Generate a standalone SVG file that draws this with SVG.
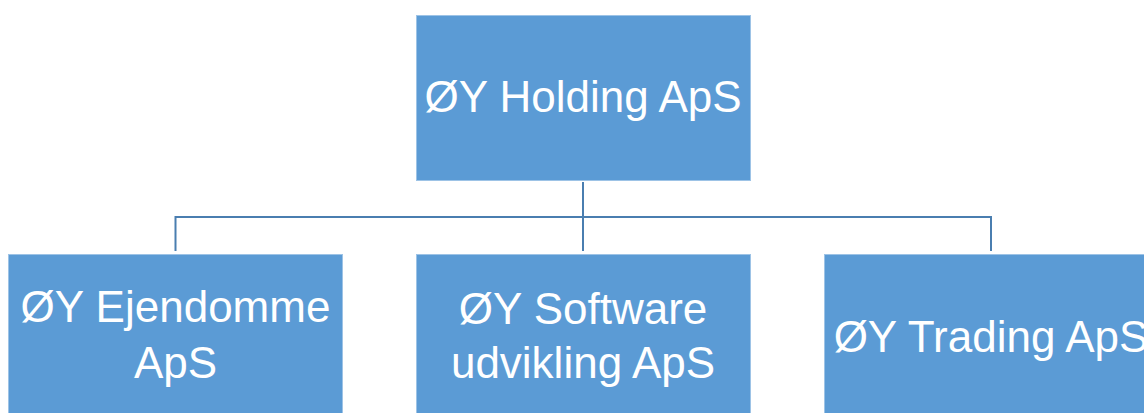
<svg xmlns="http://www.w3.org/2000/svg" width="1144" height="413" viewBox="0 0 1144 413">
<style>
.box{fill:#5B9BD5;stroke:#9DC3E6;stroke-width:1}
.lbl{fill:#FFFFFF;font-family:"Liberation Sans",Arial,sans-serif;font-size:44px;text-anchor:middle}
.conn{fill:none;stroke:#4A7EB0;stroke-width:2}
</style>
<rect width="1144" height="413" fill="#FFFFFF"/>
<g id="connectors">
<path class="conn" d="M583,182 V251"/>
<path class="conn" d="M175.5,251 V217 H991 V251"/>
</g>
<g id="holding">
<rect class="box" x="416.5" y="15.5" width="334" height="165"/>
<text class="lbl" x="583" y="112">ØY Holding ApS</text>
</g>
<g id="ejendomme">
<rect class="box" x="8.5" y="254.5" width="334" height="165"/>
<text class="lbl" x="175.5" y="322">ØY Ejendomme</text>
<text class="lbl" x="175.5" y="378">ApS</text>
</g>
<g id="software">
<rect class="box" x="416.5" y="254.5" width="334" height="165"/>
<text class="lbl" x="583" y="324">ØY Software</text>
<text class="lbl" x="583" y="378">udvikling ApS</text>
</g>
<g id="trading">
<rect class="box" x="824.5" y="254.5" width="334" height="165"/>
<text class="lbl" x="991" y="352">ØY Trading ApS</text>
</g>
</svg>
